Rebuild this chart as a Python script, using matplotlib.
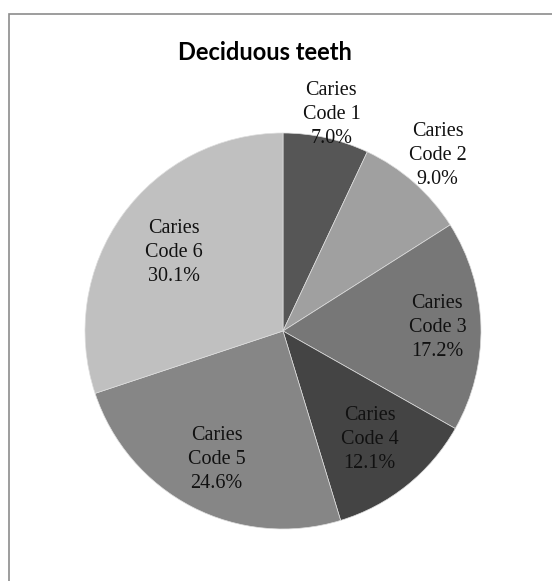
import matplotlib.pyplot as plt
import matplotlib.patches as mpatches
import numpy as np

# data
categories = ["Caries\nCode 1", "Caries\nCode 2", "Caries\nCode 3",
              "Caries\nCode 4", "Caries\nCode 5", "Caries\nCode 6"]
shares = [7.0, 9.0, 17.2, 12.1, 24.6, 30.1]
colors = ["#565656", "#a0a0a0", "#777777", "#444444", "#868686", "#c0c0c0"]
# radial position of each label (fraction of radius), Excel "best fit" look
label_r = [1.12, 1.18, 0.78, 0.70, 0.73, 0.68]

W, H = 552, 581
fig = plt.figure(figsize=(W / 100, H / 100), dpi=100)

# outer chart border (only left/top visible in the crop)
border = mpatches.Rectangle((8.5 / W, -0.2), 1.5, (1 - 13.5 / H) + 0.2,
                            transform=fig.transFigure, fill=False,
                            edgecolor="#8c8c8c", linewidth=1.2)
fig.patches.append(border)

cx, cy, r = 283, 331, 198
ax = fig.add_axes([(cx - r) / W, (H - cy - r) / H, 2 * r / W, 2 * r / H])

wedges, _ = ax.pie(shares, colors=colors, startangle=90, counterclock=False,
                   radius=1.0,
                   wedgeprops=dict(edgecolor="#dedede", linewidth=0.5))
ax.set_xlim(-1, 1)
ax.set_ylim(-1, 1)
ax.set_aspect("equal")

for w, lab, val, d in zip(wedges, categories, shares, label_r):
    ang = np.deg2rad((w.theta1 + w.theta2) / 2)
    ax.text(d * np.cos(ang), d * np.sin(ang), f"{lab}\n{val:.1f}%",
            ha="center", va="center", fontsize=14.5,
            family="Liberation Serif", linespacing=1.35, color="#111111")

fig.text(265 / W, 1 - 52 / H, "Deciduous teeth", ha="center", va="center",
         fontsize=17, fontweight="bold", family="Lato")

fig.savefig("out.png", dpi=100)
